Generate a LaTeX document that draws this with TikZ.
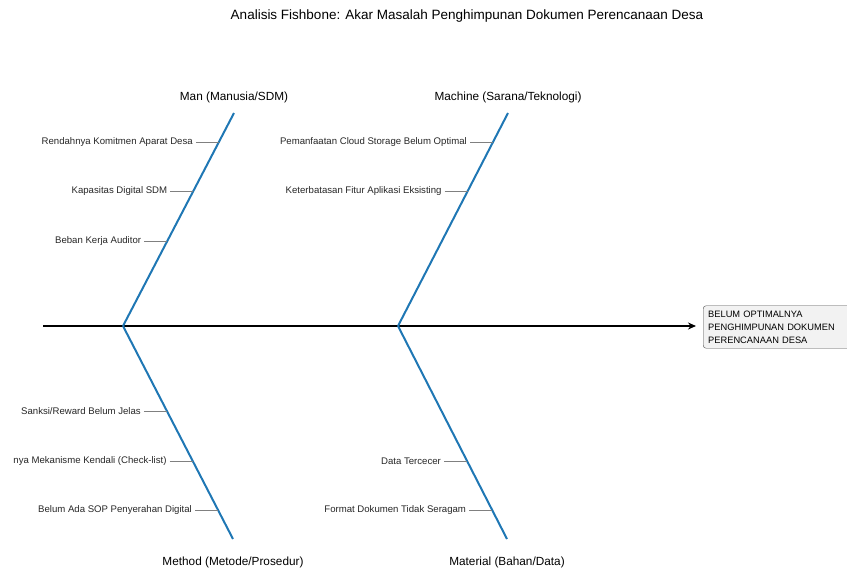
\documentclass[tikz,border=0pt]{standalone}
\usepackage{fontspec}
\setmainfont{Liberation Sans}
\usetikzlibrary{positioning,calc,arrows.meta}
\definecolor{boneblue}{RGB}{31,119,180}
\tikzset{
  spine/.style={line width=2.4pt,-{Stealth[length=8pt,width=7pt]}},
  bone/.style={line width=2pt,boneblue},
  twig/.style={line width=0.7pt,gray},
  cause/.style={font=\fontsize{9.6}{11}\selectfont,inner sep=3pt,anchor=east,text=black!85},
  cat/.style={font=\fontsize{11.8}{14}\selectfont,inner sep=0pt},
  effectbox/.style={draw=black!70,fill=black!5,rounded corners=3pt,align=left,
    font=\fontsize{9.3}{13}\selectfont,text width=160pt,inner xsep=5pt,inner ysep=5pt}
}
\begin{document}
\begin{tikzpicture}[x=1pt,y=-1pt]
\useasboundingbox (0,0) rectangle (847,573);
\node[font=\fontsize{13.5}{16}\selectfont] (title) at (467,16) {Analisis Fishbone: Akar Masalah Penghimpunan Dokumen Perencanaan Desa};
% head and spine
\node[effectbox,anchor=west] (effect) at (703,327) {BELUM OPTIMALNYA\\PENGHIMPUNAN DOKUMEN\\PERENCANAAN DESA};
\coordinate (tail) at (43,326);
\draw[spine,shorten >=7pt] (tail) -- (tail -| effect.west);
% joints on the spine
\coordinate (j1) at (123,326);
\coordinate (j2) at (398,326);
\coordinate (manEnd) at (234,113);
\coordinate (machEnd) at (508,113);
\coordinate (methEnd) at (233,539);
\coordinate (matEnd) at (507,539);
\draw[bone] (j1) -- (manEnd);
\draw[bone] (j1) -- (methEnd);
\draw[bone] (j2) -- (machEnd);
\draw[bone] (j2) -- (matEnd);
% category names
\node[cat,above=10pt of manEnd] (man) {Man (Manusia/SDM)};
\node[cat,above=10pt of machEnd] (mach) {Machine (Sarana/Teknologi)};
\node[cat,below=18pt of methEnd] (meth) {Method (Metode/Prosedur)};
\node[cat,below=18pt of matEnd] (mat) {Material (Bahan/Data)};
% causes
\foreach \f/\lbl [count=\i] in {0.864/{Rendahnya Komitmen Aparat Desa},0.634/{Kapasitas Digital SDM},0.399/{Beban Kerja Auditor}}{
  \coordinate (man-b\i) at ($(j1)!\f!(manEnd)$);
  \node[cause,left=23pt of man-b\i] (man-c\i) {\lbl};
  \draw[twig] (man-c\i.east) -- (man-b\i);
}
\foreach \f/\lbl [count=\i] in {0.864/{Pemanfaatan Cloud Storage Belum Optimal},0.634/{Keterbatasan Fitur Aplikasi Eksisting}}{
  \coordinate (mach-b\i) at ($(j2)!\f!(machEnd)$);
  \node[cause,left=23pt of mach-b\i] (mach-c\i) {\lbl};
  \draw[twig] (mach-c\i.east) -- (mach-b\i);
}
\foreach \f/\lbl [count=\i] in {0.399/{Sanksi/Reward Belum Jelas},0.634/{nya Mekanisme Kendali (Check-list)},0.864/{Belum Ada SOP Penyerahan Digital}}{
  \coordinate (meth-b\i) at ($(j1)!\f!(methEnd)$);
  \node[cause,left=23pt of meth-b\i] (meth-c\i) {\lbl};
  \draw[twig] (meth-c\i.east) -- (meth-b\i);
}
\foreach \f/\lbl [count=\i] in {0.634/{Data Tercecer},0.864/{Format Dokumen Tidak Seragam}}{
  \coordinate (mat-b\i) at ($(j2)!\f!(matEnd)$);
  \node[cause,left=23pt of mat-b\i] (mat-c\i) {\lbl};
  \draw[twig] (mat-c\i.east) -- (mat-b\i);
}
\end{tikzpicture}
\end{document}
